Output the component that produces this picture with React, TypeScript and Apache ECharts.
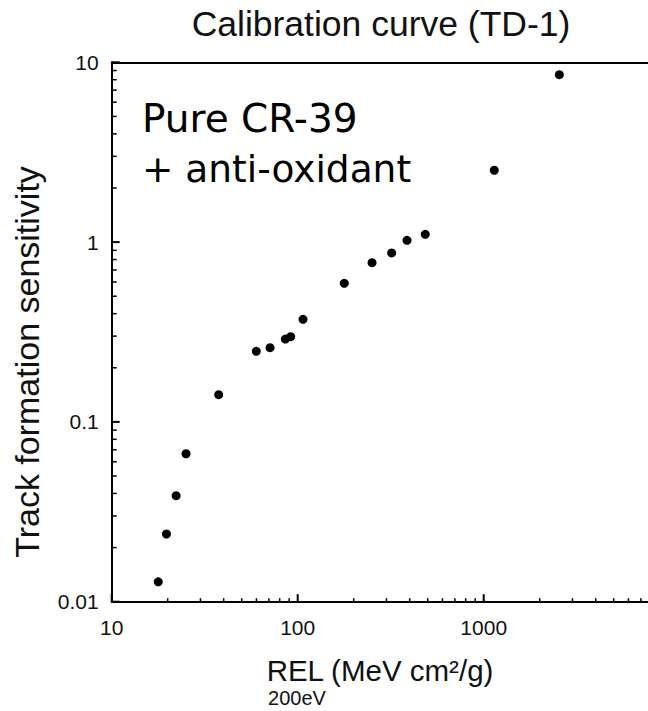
import React, { useEffect, useRef } from "react";
import * as echarts from "echarts";

// REL (MeV cm^2/g) values and the track formation sensitivity
const relValues = [17.8, 19.7, 22.2, 25.1, 37.6, 59.9, 71.0, 85.8, 91.7, 106.8, 178, 251, 320, 387, 485, 1140, 2550];
const sensitivity = [0.0129, 0.0238, 0.0389, 0.0665, 0.1417, 0.247, 0.2586, 0.289, 0.298, 0.372, 0.59, 0.768, 0.87, 1.023, 1.105, 2.51, 8.53];

const xTickLabels = [10, 100, 1000];
const xMajorTicks = [10, 100, 1000, 10000];
const yTickLabels = [0.01, 0.1, 1, 10];
const xDecades = [10, 100, 1000];
const yDecades = [0.01, 0.1, 1];
const minorMultipliers = [2, 3, 4, 5, 6, 7, 8, 9];

const titleText = "Calibration curve (TD-1)";
const noteLine1 = "Pure CR-39";
const noteLine2 = "+ anti-oxidant";
const yName = "Track formation sensitivity";
const xName = "REL (MeV cm²/g)";
const subName = "200eV";

function minorTicks(decades: number[]): number[] {
  const out: number[] = [];
  decades.forEach((d) => minorMultipliers.forEach((m) => out.push(+(d * m).toPrecision(6))));
  return out;
}

const FONT = "Liberation Sans, Arial, sans-serif";
const X_MIN = 10;
const X_MAX = 10000;
const Y_MIN = 0.01;
const Y_MAX = 10;

function tickSeries(values: number[], axis: "x" | "y", len: number, width: number) {
  return {
    type: "custom",
    silent: true,
    clip: false,
    z: 3,
    xAxisIndex: 0,
    yAxisIndex: 0,
    data: values.map((v) => (axis === "x" ? [v, Y_MIN] : [X_MIN, v])),
    renderItem: (_params: any, api: any) => {
      const p = api.coord([api.value(0), api.value(1)]);
      const shape =
        axis === "x"
          ? { x1: p[0], y1: p[1], x2: p[0], y2: p[1] - len }
          : { x1: p[0], y1: p[1], x2: p[0] + len, y2: p[1] };
      return { type: "line", shape, style: { stroke: "#000", lineWidth: width } };
    },
  };
}

export default function App() {
  const ref = useRef<HTMLDivElement>(null);
  useEffect(() => {
    if (!ref.current) return;
    const chart = echarts.init(ref.current, undefined, { renderer: "svg" });
    const data = relValues.map((x, i) => [x, sensitivity[i]]);
    const black = "#000";
    const option: any = {
      animation: false,
      backgroundColor: "#fff",
      grid: {
        left: 111.7,
        top: 62.3,
        right: -21.7,
        bottom: 109.3,
        containLabel: false,
        outerBoundsMode: "none",
      },
      xAxis: [
        {
          type: "log",
          logBase: 10,
          min: X_MIN,
          max: X_MAX,
          position: "bottom",
          axisLine: { show: true, onZero: false, lineStyle: { color: black, width: 2 } },
          axisTick: { show: false },
          axisLabel: {
            show: true,
            customValues: xTickLabels,
            margin: 15,
            fontSize: 21,
            color: "#111",
            fontFamily: FONT,
            formatter: (v: number) => String(v),
          },
          splitLine: { show: false },
          minorTick: { show: false },
        },
        {
          type: "log",
          logBase: 10,
          min: X_MIN,
          max: X_MAX,
          position: "top",
          axisLine: { show: true, onZero: false, lineStyle: { color: black, width: 2 } },
          axisTick: { show: false },
          axisLabel: { show: false },
          splitLine: { show: false },
        },
      ],
      yAxis: [
        {
          type: "log",
          logBase: 10,
          min: Y_MIN,
          max: Y_MAX,
          position: "left",
          axisLine: { show: true, onZero: false, lineStyle: { color: black, width: 2 } },
          axisTick: { show: false },
          axisLabel: {
            show: true,
            customValues: yTickLabels,
            margin: 13,
            fontSize: 21,
            color: "#111",
            fontFamily: FONT,
            formatter: (v: number) => String(v),
          },
          splitLine: { show: false },
          minorTick: { show: false },
        },
      ],
      series: [
        tickSeries(xMajorTicks, "x", 7.5, 2),
        tickSeries(minorTicks(xDecades), "x", 3.5, 1.5),
        tickSeries(yTickLabels, "y", 8, 2),
        tickSeries(minorTicks(yDecades), "y", 5, 1.5),
        {
          type: "scatter",
          xAxisIndex: 0,
          yAxisIndex: 0,
          data,
          symbol: "circle",
          symbolSize: 9,
          z: 4,
          itemStyle: { color: black, opacity: 1 },
        },
      ],
      graphic: [
        {
          type: "text",
          x: 381,
          y: 24.3,
          style: { text: titleText, fontSize: 35.5, fontFamily: FONT, fill: "#111", align: "center", verticalAlign: "middle" },
        },
        {
          type: "text",
          x: 142,
          y: 118.6,
          style: { text: noteLine1, fontSize: 39, fontFamily: "DejaVu Sans, sans-serif", fill: "#000", align: "left", verticalAlign: "middle" },
        },
        {
          type: "text",
          x: 142,
          y: 168.6,
          style: { text: noteLine2, fontSize: 37.5, fontFamily: "DejaVu Sans, sans-serif", fill: "#000", align: "left", verticalAlign: "middle" },
        },
        {
          type: "text",
          x: 27,
          y: 362,
          rotation: Math.PI / 2,
          style: { text: yName, fontSize: 34, fontFamily: FONT, fill: "#111", align: "center", verticalAlign: "middle" },
        },
        {
          type: "text",
          x: 380,
          y: 670,
          style: { text: xName, fontSize: 29.5, fontFamily: FONT, fill: "#111", align: "center", verticalAlign: "middle" },
        },
        {
          type: "text",
          x: 297,
          y: 698,
          style: { text: subName, fontSize: 20, fontFamily: FONT, fill: "#111", align: "center", verticalAlign: "middle" },
        },
      ],
    };
    chart.setOption(option);
    return () => chart.dispose();
  }, []);
  return (
    <div
      ref={ref}
      style={{ position: "absolute", left: 0, top: 0, width: 648, height: 711, overflow: "hidden" }}
    />
  );
}
